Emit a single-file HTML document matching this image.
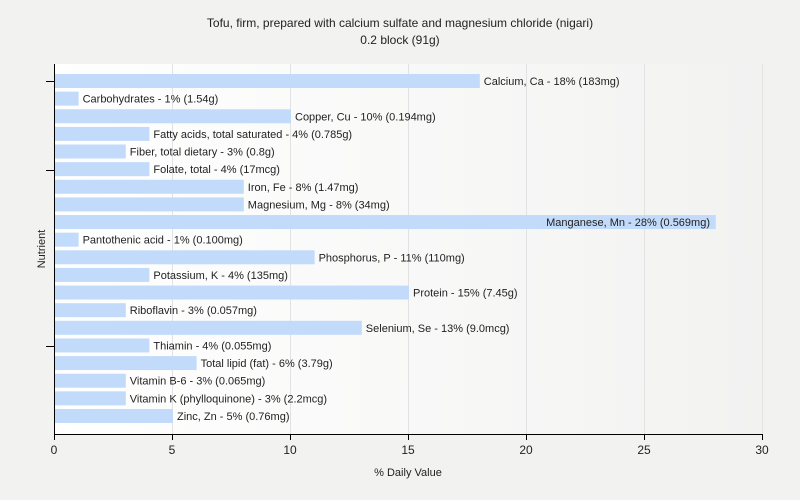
<!DOCTYPE html><html><head><style>body{margin:0;background:#f2f2f1;}svg{display:block;font-family:"Liberation Sans",sans-serif;}</style></head><body>
<svg width="800" height="500" xmlns="http://www.w3.org/2000/svg">
<defs><linearGradient id="g" x1="0" x2="1" y1="0" y2="0"><stop offset="0" stop-color="#ffffff"/><stop offset="1" stop-color="#f2f2f1"/></linearGradient></defs>
<rect x="0" y="0" width="800" height="500" fill="#f2f2f1"/>
<rect x="55" y="64" width="708" height="370" fill="url(#g)"/>
<g stroke="#e2e2e2" stroke-width="1">
<line x1="172.5" y1="64" x2="172.5" y2="434"/><line x1="290.5" y1="64" x2="290.5" y2="434"/><line x1="408.5" y1="64" x2="408.5" y2="434"/><line x1="526.5" y1="64" x2="526.5" y2="434"/><line x1="644.5" y1="64" x2="644.5" y2="434"/><line x1="762.5" y1="64" x2="762.5" y2="434"/>
</g>
<text x="400" y="27" font-size="12" text-anchor="middle" fill="#222">Tofu, firm, prepared with calcium sulfate and magnesium chloride (nigari)</text>
<text x="400" y="44" font-size="12" text-anchor="middle" fill="#222">0.2 block (91g)</text>
<g fill="#c2dbfa" id="bars"></g>
<g font-size="11" fill="#222" id="labels"></g>
<g stroke="#000" stroke-width="1">
<line x1="54.5" y1="64" x2="54.5" y2="434"/><line x1="54" y1="434.5" x2="763" y2="434.5"/>
<line x1="46" y1="81.5" x2="54" y2="81.5"/><line x1="46" y1="170.5" x2="54" y2="170.5"/><line x1="46" y1="346.5" x2="54" y2="346.5"/>
<line x1="54.5" y1="434" x2="54.5" y2="440"/><line x1="172.5" y1="434" x2="172.5" y2="440"/><line x1="290.5" y1="434" x2="290.5" y2="440"/><line x1="408.5" y1="434" x2="408.5" y2="440"/><line x1="526.5" y1="434" x2="526.5" y2="440"/><line x1="644.5" y1="434" x2="644.5" y2="440"/><line x1="762.5" y1="434" x2="762.5" y2="440"/>
</g>
<g font-size="12" fill="#222" text-anchor="middle">
<text x="54" y="454">0</text><text x="172" y="454">5</text><text x="290" y="454">10</text><text x="408" y="454">15</text><text x="526" y="454">20</text><text x="644" y="454">25</text><text x="762" y="454">30</text>
</g>
<text x="408" y="476" font-size="11" text-anchor="middle" fill="#222">% Daily Value</text>
<text x="45" y="249" font-size="11" text-anchor="middle" fill="#222" transform="rotate(-90 45 249)">Nutrient</text>
<script>
var d=[["Calcium, Ca - 18% (183mg)",18],["Carbohydrates - 1% (1.54g)",1],["Copper, Cu - 10% (0.194mg)",10],["Fatty acids, total saturated - 4% (0.785g)",4],["Fiber, total dietary - 3% (0.8g)",3],["Folate, total - 4% (17mcg)",4],["Iron, Fe - 8% (1.47mg)",8],["Magnesium, Mg - 8% (34mg)",8],["Manganese, Mn - 28% (0.569mg)",28],["Pantothenic acid - 1% (0.100mg)",1],["Phosphorus, P - 11% (110mg)",11],["Potassium, K - 4% (135mg)",4],["Protein - 15% (7.45g)",15],["Riboflavin - 3% (0.057mg)",3],["Selenium, Se - 13% (9.0mcg)",13],["Thiamin - 4% (0.055mg)",4],["Total lipid (fat) - 6% (3.79g)",6],["Vitamin B-6 - 3% (0.065mg)",3],["Vitamin K (phylloquinone) - 3% (2.2mcg)",3],["Zinc, Zn - 5% (0.76mg)",5]];
var ns="http://www.w3.org/2000/svg",b=document.getElementById("bars"),l=document.getElementById("labels");
d.forEach(function(r,i){var y=74+i*17.63,w=r[1]*23.6;var e=document.createElementNS(ns,"rect");e.setAttribute("x",55);e.setAttribute("y",y);e.setAttribute("width",w);e.setAttribute("height",14);b.appendChild(e);
var t=document.createElementNS(ns,"text");t.setAttribute("x",r[1]==28?710:55+w+4);t.setAttribute("y",y+11);if(r[1]==28)t.setAttribute("text-anchor","end");t.textContent=r[0];l.appendChild(t);});
</script>
</svg></body></html>
